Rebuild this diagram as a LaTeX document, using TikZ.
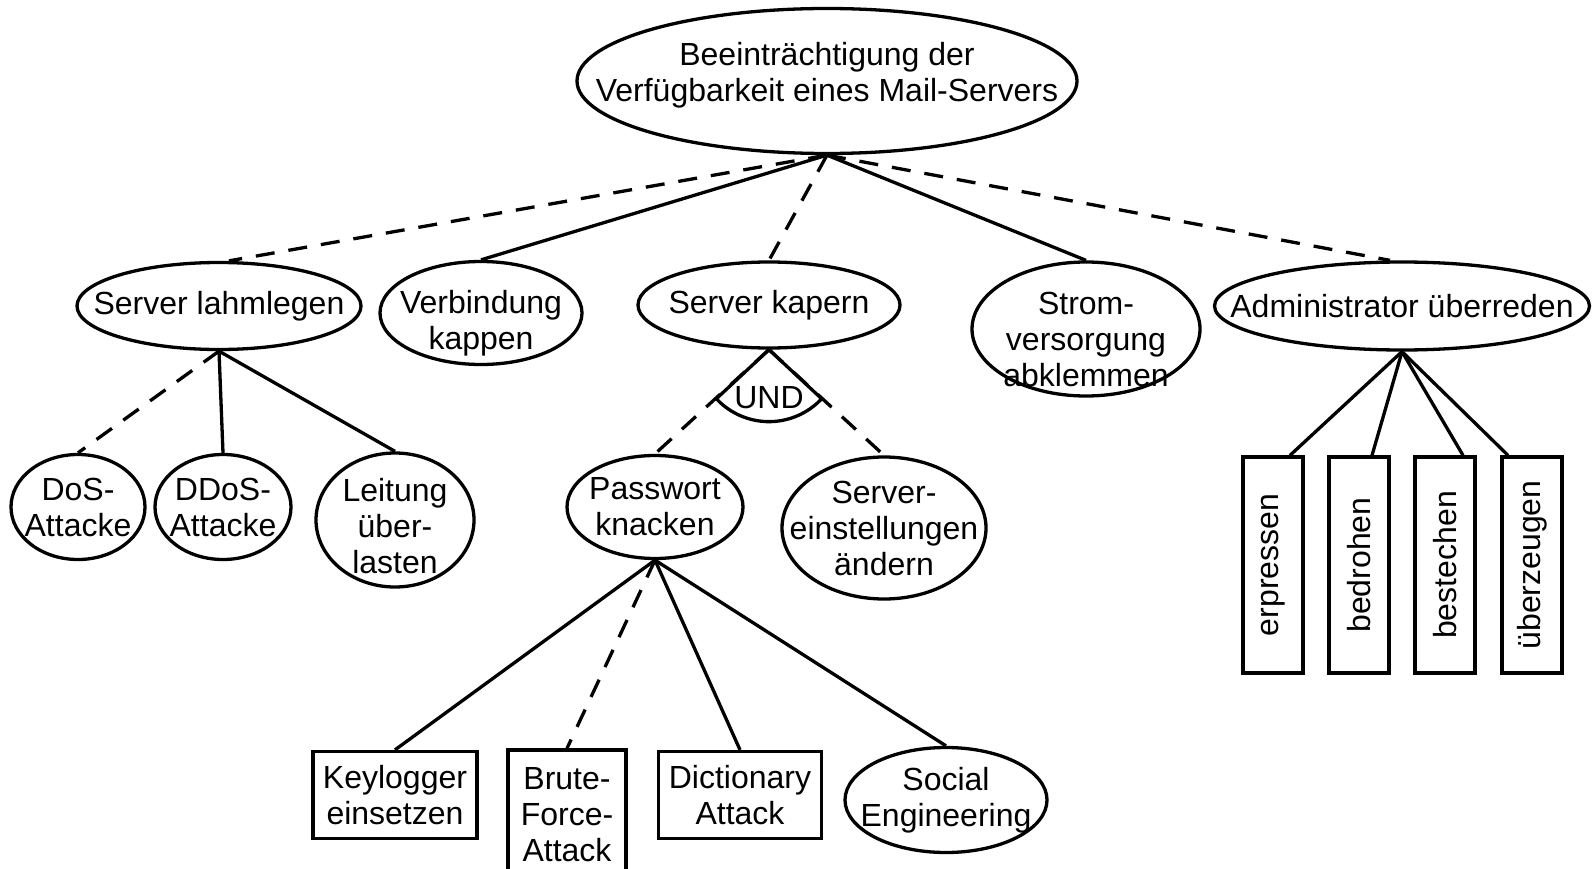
\documentclass[tikz,border=0pt]{standalone}
\usepackage{fontspec}
\setmainfont{Liberation Sans}
\usetikzlibrary{shapes.geometric}
\usetikzlibrary{calc}

\begin{document}
\begin{tikzpicture}[x=1pt, y=-1pt, line width=3.3pt,
        every node/.style={font=\fontsize{32}{36}\selectfont, align=center},
        oval/.style={ellipse, draw, inner sep=-150pt},
        box/.style={rectangle, draw, inner sep=0pt},
        oder/.style={dash pattern=on 19pt off 14pt}]
            \useasboundingbox (0,0) rectangle (1594,869);

            \node[oval, minimum width=500, minimum height=145] (top) at (827,81) {};
            \node (top-t) at ($(top)+(0,-6)$) {Beeinträchtigung der\\Verfügbarkeit eines Mail-Servers};

            \node[oval, minimum width=284, minimum height=87] (lahm) at (219,306) {Server lahmlegen};
            \node[oval, minimum width=202, minimum height=103] (verb) at (481,313) {};
            \node (verb-t) at ($(verb)+(0,10)$) {Verbindung\\kappen};
            \node[oval, minimum width=262, minimum height=86] (kap) at (769,305) {Server kapern};
            \node[oval, minimum width=228, minimum height=134] (strom) at (1086,329) {};
            \node (strom-t) at ($(strom)+(0,10)$) {Strom-\\versorgung\\abklemmen};
            \node[oval, minimum width=375, minimum height=88] (admin) at (1402,306) {Administrator überreden};

            \node[oval, minimum width=134, minimum height=105] (dos) at (78,507) {DoS-\\Attacke};
            \node[oval, minimum width=136, minimum height=105] (ddos) at (223,507) {DDoS-\\Attacke};
            \node[oval, minimum width=158, minimum height=134] (leit) at (395,520) {};
            \node (leit-t) at ($(leit)+(0,6)$) {Leitung\\über-\\lasten};
            \node[oval, minimum width=176, minimum height=103] (pw) at (655,507) {Passwort\\knacken};
            \node[oval, minimum width=204, minimum height=142] (einst) at (884,528) {Server-\\einstellungen\\ändern};

            \node[box, minimum width=164, minimum height=87] (keyl) at (395,795) {Keylogger\\einsetzen};
            \node[box, minimum width=118, minimum height=130] (brute) at (567,815) {Brute-\\Force-\\Attack};
            \node[box, minimum width=163, minimum height=87] (dict) at (740,795) {Dictionary\\Attack};
            \node[oval, minimum width=202, minimum height=105] (social) at (946,800) {Social\\Engineering};

            \node[box, minimum width=60, minimum height=216] (erpr) at (1273,565) {\rotatebox{90}{erpressen}};
            \node[box, minimum width=60, minimum height=216] (bedr) at (1359,565) {\rotatebox{90}{bedrohen}};
            \node[box, minimum width=60, minimum height=216] (best) at (1445,565) {\rotatebox{90}{bestechen}};
            \node[box, minimum width=60, minimum height=216] (uebz) at (1532,565) {\rotatebox{90}{überzeugen}};

            \draw[oder] (top.south) -- ([xshift=10pt]lahm.north);
            \draw (top.south) -- (verb.north);
            \draw[oder] (top.south) -- (kap.north);
            \draw (top.south) -- (strom.north);
            \draw[oder] (top.south) -- ([xshift=-12pt]admin.north);

            \draw[oder] (lahm.south) -- (dos.north);
            \draw (lahm.south) -- (ddos.north);
            \draw (lahm.south) -- (leit.north);

            \draw[oder] (kap.south) -- (pw.north);
            \draw[oder] (kap.south) -- (einst.north);
            \draw (kap.south) -- ++(137:72) arc[start angle=137, end angle=43, radius=72] -- (kap.south);
            \node (und) at ($(kap.south)+(0,48)$) {UND};

            \draw (pw.south) -- (keyl.north);
            \draw[oder] (pw.south) -- (brute.north);
            \draw (pw.south) -- (dict.north);
            \draw (pw.south) -- (social.north);

            \draw (admin.south) -- ([xshift=17pt]erpr.north);
            \draw (admin.south) -- ([xshift=13pt]bedr.north);
            \draw (admin.south) -- ([xshift=18pt]best.north);
            \draw (admin.south) -- ([xshift=-24pt]uebz.north);
        \end{tikzpicture}
\end{document}
